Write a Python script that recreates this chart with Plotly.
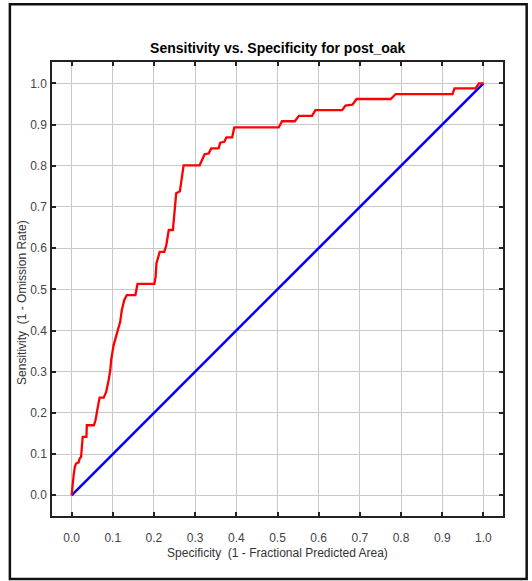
import plotly.graph_objects as go

# Model ROC curve: specificity (1 - fractional predicted area) vs sensitivity
specificity = [0.0, 0.002, 0.005, 0.008, 0.011, 0.017, 0.020, 0.023, 0.025, 0.027,
               0.036, 0.037, 0.054, 0.058, 0.063, 0.068, 0.078, 0.084, 0.090, 0.094,
               0.096, 0.102, 0.110, 0.118, 0.122, 0.128, 0.134, 0.155, 0.160, 0.201,
               0.204, 0.206, 0.214, 0.225, 0.230, 0.236, 0.246, 0.252, 0.254, 0.263,
               0.268, 0.272, 0.311, 0.317, 0.323, 0.333, 0.339, 0.357, 0.361, 0.371,
               0.376, 0.390, 0.395, 0.503, 0.511, 0.542, 0.552, 0.584, 0.592, 0.657,
               0.665, 0.682, 0.692, 0.775, 0.787, 0.925, 0.930, 0.981, 0.989, 1.0]
sensitivity = [0.0, 0.030, 0.049, 0.070, 0.077, 0.080, 0.090, 0.093, 0.120, 0.142,
               0.142, 0.170, 0.170, 0.182, 0.210, 0.237, 0.237, 0.251, 0.280, 0.304,
               0.328, 0.364, 0.393, 0.421, 0.450, 0.474, 0.486, 0.486, 0.513, 0.513,
               0.530, 0.563, 0.591, 0.591, 0.607, 0.644, 0.644, 0.700, 0.733, 0.738,
               0.773, 0.801, 0.801, 0.814, 0.828, 0.830, 0.842, 0.842, 0.856, 0.858,
               0.869, 0.869, 0.893, 0.893, 0.908, 0.908, 0.921, 0.921, 0.935, 0.935,
               0.946, 0.948, 0.962, 0.962, 0.974, 0.974, 0.988, 0.988, 1.0, 1.0]

# Random-prediction reference line
random_x = [0.0, 1.0]
random_y = [0.0, 1.0]

tick_vals = [i / 10 for i in range(11)]
tick_text = [f"{v:.1f}" for v in tick_vals]

fig = go.Figure()
fig.add_trace(go.Scatter(x=random_x, y=random_y, mode="lines",
                         line=dict(color="#0000ff", width=2.5), showlegend=False))
fig.add_trace(go.Scatter(x=specificity, y=sensitivity, mode="lines",
                         line=dict(color="#ff0000", width=2.3), showlegend=False))

axis_common = dict(
    showgrid=True, gridcolor="#c8c8c8", gridwidth=1,
    showline=True, linecolor="#222222", linewidth=1.5, mirror="ticks",
    ticks="inside", ticklen=4, tickwidth=1.5, tickcolor="#222222",
    tickvals=tick_vals, ticktext=tick_text, zeroline=False, automargin=False,
    tickfont=dict(family="Liberation Sans", size=12, color="#444444"),
)

fig.update_layout(
    width=532, height=581,
    margin=dict(l=52, r=29, t=62, b=65),
    paper_bgcolor="white", plot_bgcolor="white",
    title=dict(text="<b>Sensitivity vs. Specificity for post_oak</b>",
               x=0.522, xanchor="center", y=1 - 48 / 581, yanchor="middle",
               font=dict(family="Liberation Sans", size=14, color="#000000")),
    xaxis=dict(range=[-0.0476, 1.0476],
               title=dict(text="Specificity  (1 - Fractional Predicted Area)",
                          font=dict(family="Liberation Sans", size=12, color="#333333"),
                          standoff=4),
               ticklabelstandoff=10, **axis_common),
    yaxis=dict(range=[-0.0503, 1.0518], ticklabelstandoff=1, **axis_common),
    annotations=[dict(text="Sensitivity  (1 - Omission Rate)", textangle=-90,
                      xref="paper", yref="paper", x=-0.068, y=0.47,
                      xanchor="center", yanchor="middle", showarrow=False,
                      font=dict(family="Liberation Sans", size=12, color="#333333"))],
    shapes=[dict(type="rect", xref="paper", yref="paper",
                 x0=-0.0934, x1=1.0525, y0=-0.139, y1=1.127,
                 line=dict(color="#111111", width=2.5), fillcolor="rgba(0,0,0,0)",
                 layer="above")],
)

fig.write_html("out.html")
